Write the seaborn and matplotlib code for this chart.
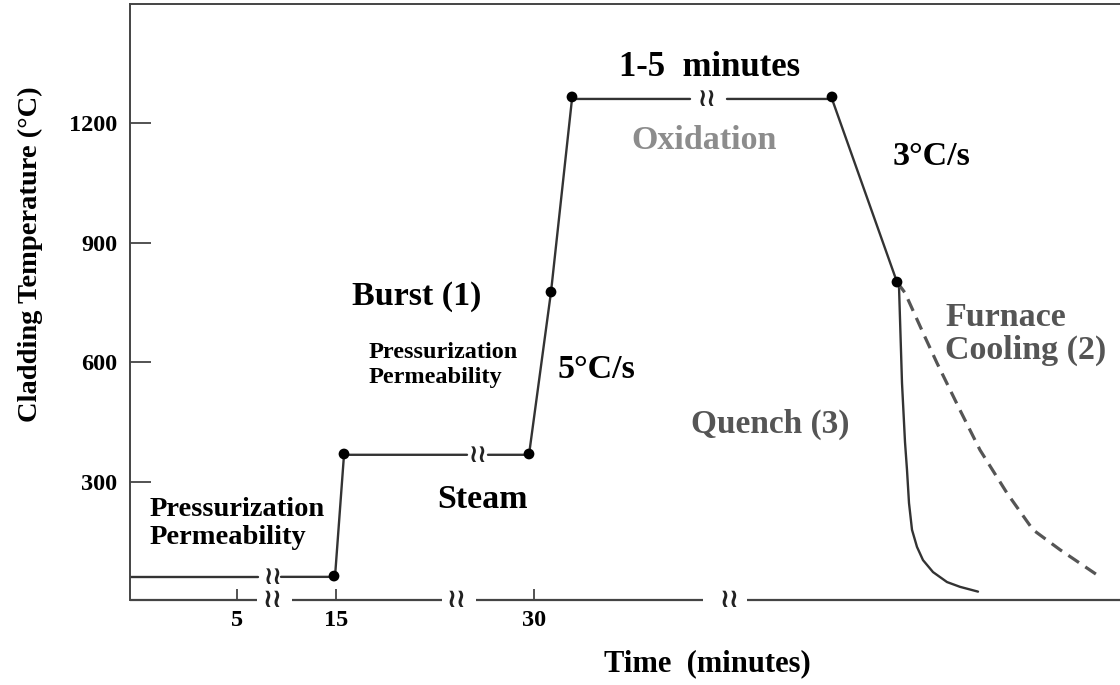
import numpy as np
import pandas as pd
import seaborn as sns
import matplotlib.pyplot as plt

# schematic time axis is broken, so x values are positions along the drawn axis
# main heating profile (segments split where the axis breaks)
profile_x = [130, 258, 281, 335, 344, 467, 488, 529, 551, 572, 690, 727, 832, 897]
profile_t = [62, 62, 62, 62, 368, 368, 368, 368, 776, 1260, 1260, 1260, 1260, 801]
profile_seg = [0, 0, 1, 1, 1, 1, 2, 2, 2, 2, 2, 3, 3, 3]

# marked points on the profile
dot_x = [334, 344, 529, 551, 572, 832, 897]
dot_t = [64, 370, 370, 776, 1265, 1265, 801]

# quench (3) and furnace cooling (2) branches
quench_x = [897, 899, 902, 905, 907, 909, 912, 917, 923, 933, 947, 960, 978]
quench_t = [801, 790, 548, 400, 330, 247, 180, 137, 104, 74, 49, 37, 25]
furnace_x = [897, 905, 923, 937, 960, 980, 1007, 1033, 1060, 1100]
furnace_t = [801, 774, 674, 598, 480, 380, 272, 180, 130, 62]

# axis pieces and break marks
axis_start = [130, 292, 476, 747]
axis_end = [257, 442, 703, 1120]
axis_breaks = [273, 457, 730]
line_breaks_x = [273, 478, 707]
line_breaks_t = [62, 368, 1260]

xtick_pos = [237, 336, 534]
xtick_labels = ['5', '15', '30']
ytick_pos = [300, 600, 900, 1200]

sns.set_style('white')
plt.rcParams['font.family'] = ['Liberation Serif', 'DejaVu Serif']
plt.rcParams['font.weight'] = 'bold'
plt.rcParams['text.color'] = 'black'
plt.rcParams['axes.labelcolor'] = 'black'

fig = plt.figure(figsize=(11.2, 6.85), dpi=100)
ax = fig.add_axes([130 / 1120, 85 / 685, 990 / 1120, 596 / 685])

line_col = '#333333'
profile = pd.DataFrame({'x': profile_x, 't': profile_t, 'seg': profile_seg})
sns.lineplot(data=profile, x='x', y='t', units='seg', estimator=None, sort=False,
             color=line_col, lw=1.7, ax=ax)
sns.lineplot(x=quench_x, y=quench_t, sort=False, estimator=None, color=line_col, lw=1.7, ax=ax)
sns.lineplot(x=furnace_x, y=furnace_t, sort=False, estimator=None, color='#555555',
             lw=2.3, linestyle=(0, (4, 2.4)), ax=ax)
sns.scatterplot(x=dot_x, y=dot_t, color='black', s=60, edgecolor='none', zorder=5, ax=ax)

# broken bottom axis
ax.hlines([4] * len(axis_start), axis_start, axis_end, color='#444444', lw=1.6, clip_on=False)
for bx in axis_breaks:
    ax.text(bx, 4, '≀≀', ha='center', va='center', fontsize=19, color='#222222',
            family='DejaVu Sans', fontweight='bold', clip_on=False)
for bx, bt in zip(line_breaks_x, line_breaks_t):
    ax.text(bx, bt, '≀≀', ha='center', va='center', fontsize=18, color='#222222',
            family='DejaVu Sans', fontweight='bold')

ax.set_xlim(130, 1120)
ax.set_ylim(4, 1498)
ax.set_xticks(xtick_pos)
ax.set_xticklabels(xtick_labels)
ax.set_yticks(ytick_pos)
ax.tick_params(axis='y', direction='in', length=15, width=1.3, color='#444444',
               labelsize=17.5, pad=9, left=True, labelcolor='black')
ax.tick_params(axis='x', direction='in', length=8, width=1.3, color='#444444',
               labelsize=17.5, pad=7, bottom=True, labelcolor='black')
for lab in ax.get_xticklabels() + ax.get_yticklabels():
    lab.set_fontweight('bold')

ax.spines['bottom'].set_visible(False)
ax.spines['right'].set_visible(False)
for s in ['left', 'top']:
    ax.spines[s].set_color('#444444')
    ax.spines[s].set_linewidth(1.4)

ax.set_ylabel('Cladding Temperature (°C)', fontsize=20.5, fontweight='bold')
ax.yaxis.set_label_coords(-0.088, 0.58)
ax.set_xlabel('Time  (minutes)', fontsize=22, fontweight='bold')
ax.xaxis.set_label_coords(0.583, -0.082)

# annotations
ax.text(150, 262, 'Pressurization\nPermeability', fontsize=20.5, ha='left', va='top',
        linespacing=1.15)
ax.text(369, 650, 'Pressurization\nPermeability', fontsize=17.5, ha='left', va='top',
        linespacing=1.25)
ax.text(417, 764, 'Burst (1)', fontsize=24.5, ha='center', va='center')
ax.text(596, 581, '5°C/s', fontsize=24.5, ha='center', va='center')
ax.text(483, 257, 'Steam', fontsize=24.5, ha='center', va='center')
ax.text(710, 1338, '1-5  minutes', fontsize=25, ha='center', va='center')
ax.text(704, 1157, 'Oxidation', fontsize=24.5, ha='center', va='center', color='#8c8c8c')
ax.text(932, 1115, '3°C/s', fontsize=24.5, ha='center', va='center')
ax.text(945, 752, 'Furnace\nCooling (2)', fontsize=24.5, ha='left', va='top',
        color='#555555', linespacing=1.1)
ax.text(770, 443, 'Quench (3)', fontsize=24, ha='center', va='center', color='#555555')

plt.savefig('out.png', dpi=100)
